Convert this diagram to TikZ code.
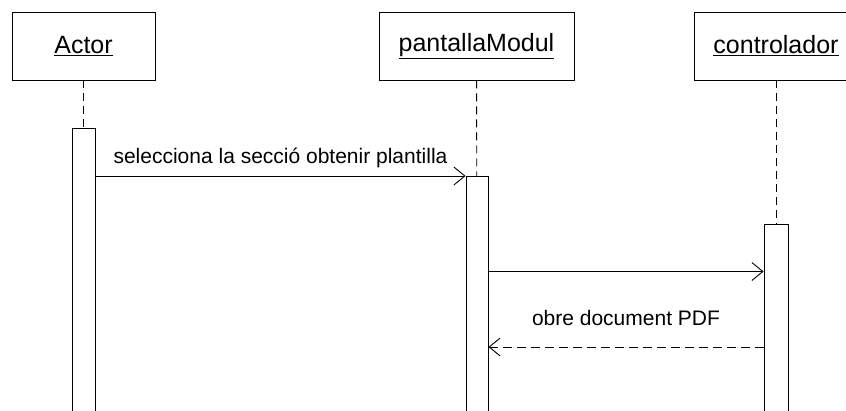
\documentclass[tikz,border=0pt]{standalone}
\usepackage{fontspec}
\setmainfont{Liberation Sans}
\usetikzlibrary{arrows.meta}
\usetikzlibrary{positioning}

\tikzset{
  obj/.style={draw, rectangle, line width=0.9pt, minimum height=68,
    inner sep=0pt, font=\fontsize{25}{30}\selectfont},
  actbar/.style={draw, rectangle, line width=0.9pt, fill=white,
    minimum width=23, inner sep=0pt, anchor=north},
  life/.style={line width=0.9pt, dash pattern=on 8pt off 5pt},
  msg/.style={line width=0.9pt, -{Straight Barb[length=11pt,width=18pt,line width=0.9pt]}},
  reply/.style={msg, dash pattern=on 9pt off 5pt},
  msglabel/.style={font=\fontsize{21}{25}\selectfont, inner sep=0pt}
}

\begin{document}
\begin{tikzpicture}[x=1pt,y=-1pt]
  \useasboundingbox (0,0) rectangle (846,410);
  \clip (0,0) rectangle (846,410);

  % objects
  \node[obj, minimum width=143] (actor) at (83.5,46) {\underline{Actor}};
  \node[obj, minimum width=195] (pantalla) at (476.5,46) {\underline{pantallaModul}};
  \node[obj, minimum width=164] (ctrl) at (776,46) {\underline{controlador}};

  % activations
  \node[actbar, minimum height=292] (act1) at (83.5,128) {};
  \node[actbar, minimum height=244, minimum width=22] (act2) at (477,176) {};
  \node[actbar, minimum height=196, minimum width=24] (act3) at (776,224) {};

  \draw[life] (actor) -- (act1);
  \draw[life] (pantalla) -- (act2);
  \draw[life] (ctrl) -- (act3);

  \coordinate (m1) at (0,176);
  \coordinate (m2) at (0,271.5);
  \coordinate (m3) at (0,347);

  \draw[msg] (act1.east |- m1) -- (act2.west |- m1)
    node[msglabel, midway, above=8pt] {selecciona la secció obtenir plantilla};
  \draw[msg] (act2.east |- m2) -- (act3.west |- m2);
  \draw[reply] (act3.west |- m3) -- (act2.east |- m3)
    node[msglabel, midway, above=21pt] {obre document PDF};
\end{tikzpicture}
\end{document}
